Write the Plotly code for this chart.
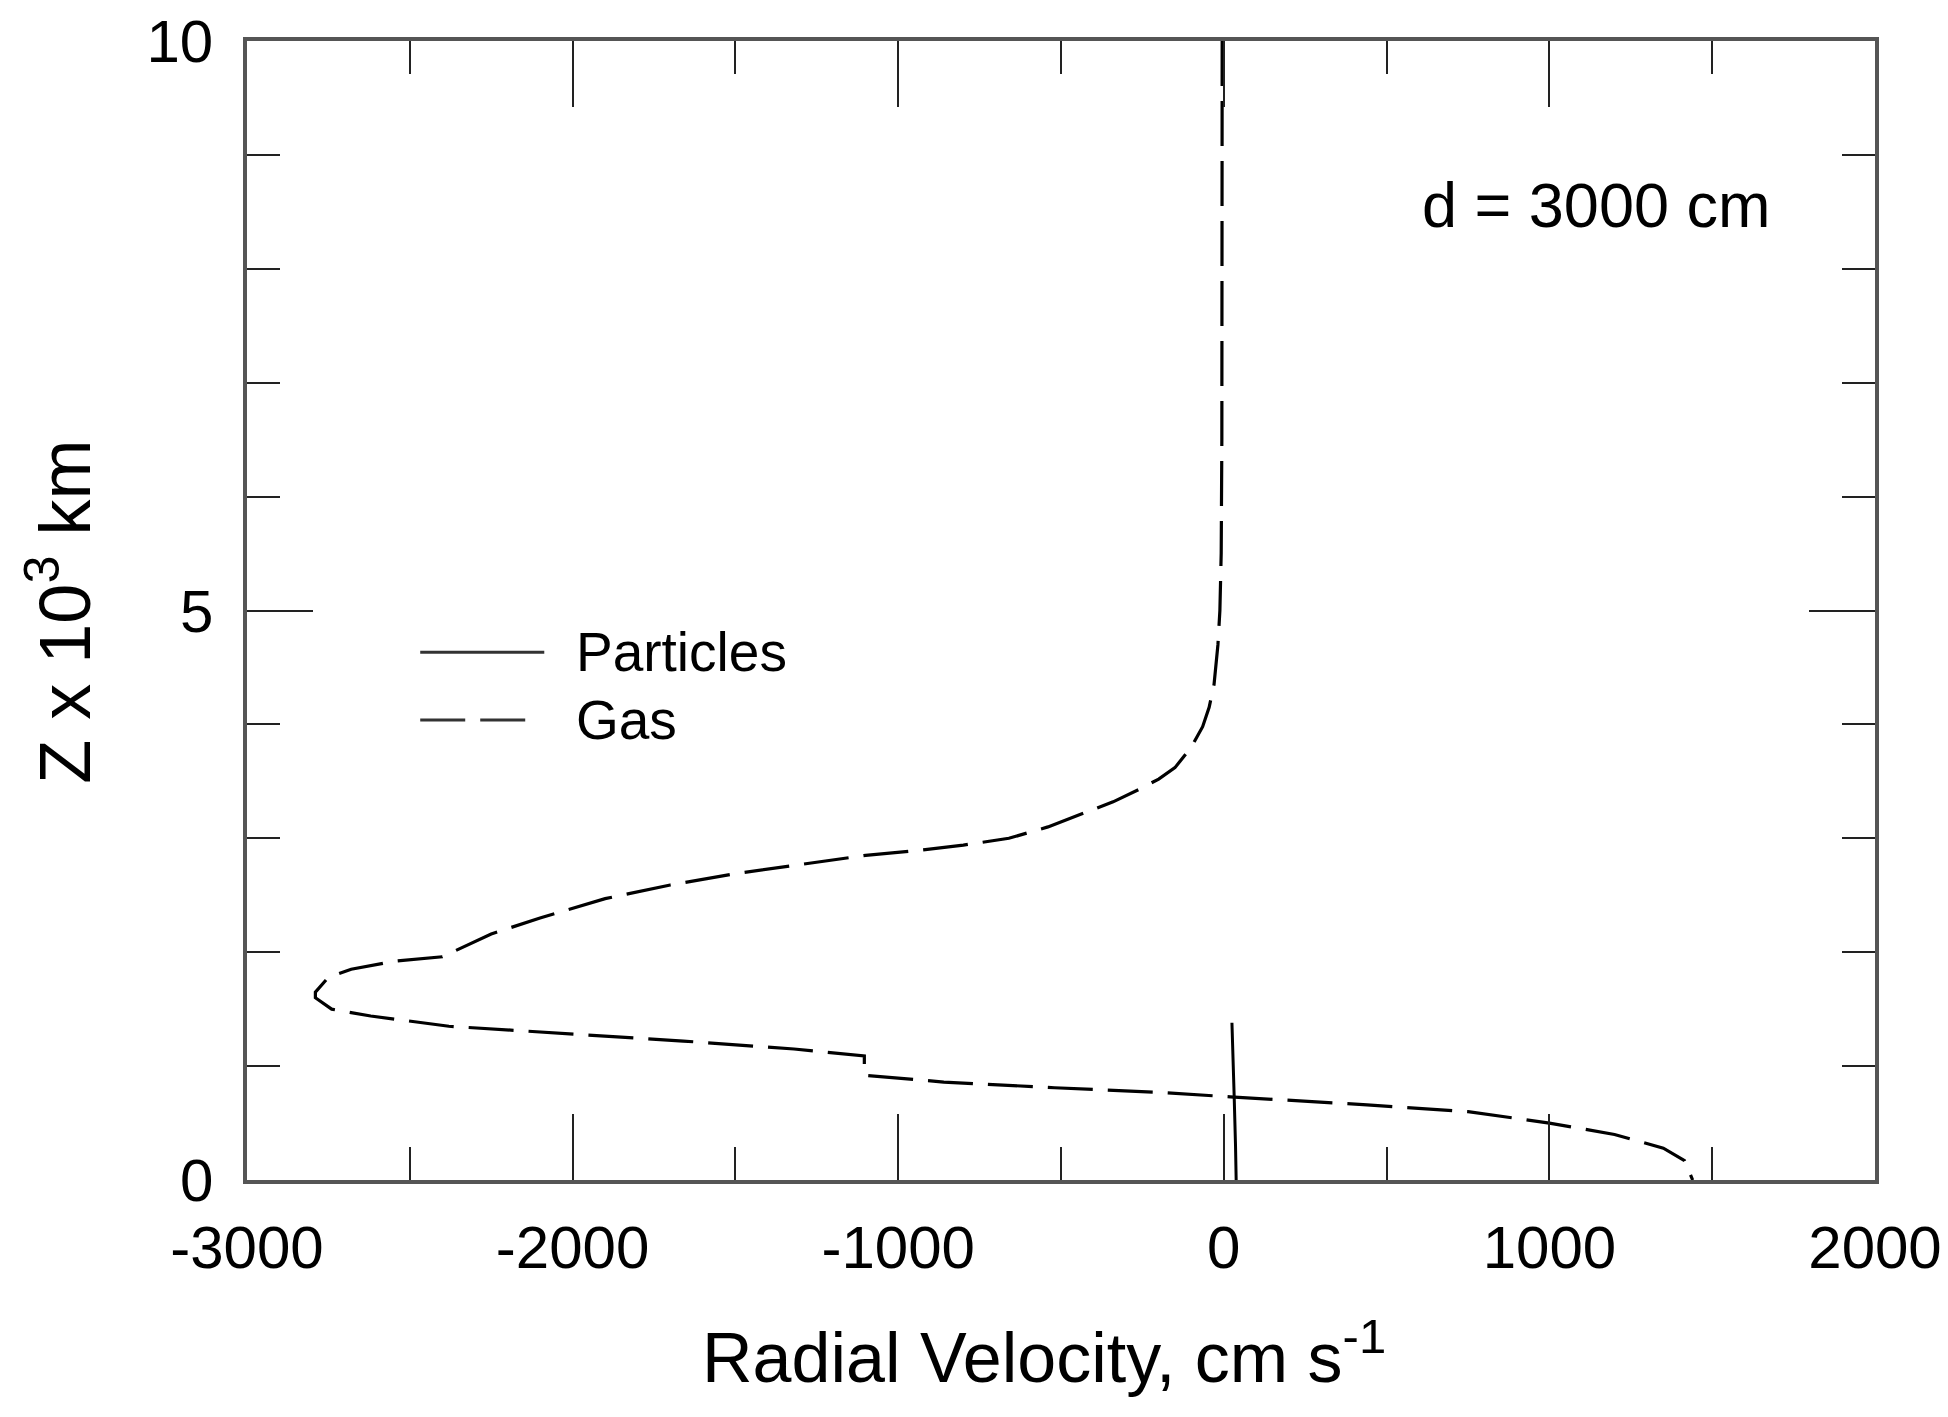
import plotly.graph_objects as go

# ---- data ----
gas_velocity = [-5, -5, -6, -8, -12, -18, -30, -45, -65, -100, -150, -200, -260, -340,
                -430, -540, -660, -800, -950, -1100, -1300, -1500, -1700, -1900, -2100,
                -2250, -2400, -2550, -2680, -2750, -2790, -2790, -2740, -2620, -2380,
                -2040, -1660, -1320, -1104, -1104, -860, -520, -200, 20, 440, 750, 1000,
                1200, 1350, 1415, 1432, 1440]
gas_z = [10.0, 8.0, 6.5, 5.5, 5.0, 4.7, 4.35, 4.15, 3.98, 3.8, 3.62, 3.52, 3.43, 3.32,
         3.22, 3.1, 3.0, 2.94, 2.89, 2.85, 2.77, 2.69, 2.59, 2.47, 2.3,
         2.16, 1.96, 1.92, 1.85, 1.78, 1.65, 1.6, 1.5, 1.44, 1.35,
         1.29, 1.22, 1.15, 1.09, 0.92, 0.86, 0.81, 0.77, 0.73, 0.66, 0.6, 0.5,
         0.4, 0.28, 0.17, 0.05, 0.0]

particle_velocity = [25, 28, 32, 36, 38]
particle_z = [1.38, 1.0, 0.72, 0.3, 0.0]

x_ticks = [-3000, -2000, -1000, 0, 1000, 2000]
x_tick_labels = ["-3000", "-2000", "-1000", "0", "1000", "2000"]
y_ticks = [0, 5, 10]
y_tick_labels = ["0", "5", "10"]

series_names = ["Particles", "Gas"]
annotation_text = "d = 3000 cm"
x_title = "Radial Velocity, cm s<sup>-1</sup>"
y_title = "Z x 10<sup>3</sup> km"

FONT = "Liberation Sans, Arial, sans-serif"
DASH = "45px,15px"

fig = go.Figure()
fig.add_trace(go.Scatter(x=particle_velocity, y=particle_z, mode="lines",
                         name=series_names[0], showlegend=False,
                         line=dict(color="black", width=3)))
fig.add_trace(go.Scatter(x=gas_velocity, y=gas_z, mode="lines",
                         name=series_names[1], showlegend=False,
                         line=dict(color="black", width=3.2, dash=DASH)))

axis_common = dict(
    ticks="inside", ticklen=66, tickwidth=2, tickcolor="#222",
    showline=True, linewidth=3.5, linecolor="#555", mirror="allticks",
    showgrid=False, zeroline=False, automargin=False,
    tickfont=dict(family=FONT, size=60, color="black"),
)

fig.update_xaxes(range=[-3000, 2000], tickvals=x_ticks, ticktext=x_tick_labels,
                 minor=dict(dtick=500, ticklen=33, tickwidth=2, tickcolor="#222",
                            ticks="inside", showgrid=False),
                 ticklabelstandoff=12,
                 **axis_common)
fig.update_yaxes(range=[0, 10], tickvals=y_ticks, ticktext=y_tick_labels,
                 minor=dict(dtick=1, ticklen=33, tickwidth=2, tickcolor="#222",
                            ticks="inside", showgrid=False),
                 ticklabelstandoff=18,
                 **axis_common)

# axis titles
fig.add_annotation(xref="paper", yref="paper", x=0.4894, y=-0.1520, text=x_title,
                   showarrow=False, xanchor="center", yanchor="middle",
                   font=dict(family=FONT, size=70, color="black"))
fig.add_annotation(xref="paper", yref="paper", x=-0.1158, y=0.4994, text=y_title,
                   showarrow=False, xanchor="center", yanchor="middle", textangle=-90,
                   font=dict(family=FONT, size=72, color="black"))

# manual legend (sample lines + labels)
fig.add_shape(type="line", xref="paper", yref="paper", x0=0.1064, x1=0.1826,
              y0=0.4634, y1=0.4634, line=dict(color="#333", width=3))
fig.add_shape(type="line", xref="paper", yref="paper", x0=0.1064, x1=0.1790,
              y0=0.4038, y1=0.4038, line=dict(color="#333", width=3, dash=DASH))
fig.add_annotation(xref="paper", yref="paper", x=0.201, y=0.4634, text=series_names[0],
                   showarrow=False, xanchor="left", yanchor="middle",
                   font=dict(family=FONT, size=55, color="black"))
fig.add_annotation(xref="paper", yref="paper", x=0.201, y=0.4038, text=series_names[1],
                   showarrow=False, xanchor="left", yanchor="middle",
                   font=dict(family=FONT, size=55, color="black"))

fig.add_annotation(xref="paper", yref="paper", x=0.7205, y=0.856, text=annotation_text,
                   showarrow=False, xanchor="left", yanchor="middle",
                   font=dict(family=FONT, size=63, color="black"))

# figure size compensates for the 8px default page margin
fig.update_layout(width=1940, height=1409,
                  margin=dict(l=239, r=73, t=33, b=237, autoexpand=False),
                  plot_bgcolor="white", paper_bgcolor="white",
                  showlegend=False)

fig.write_html("out.html")
